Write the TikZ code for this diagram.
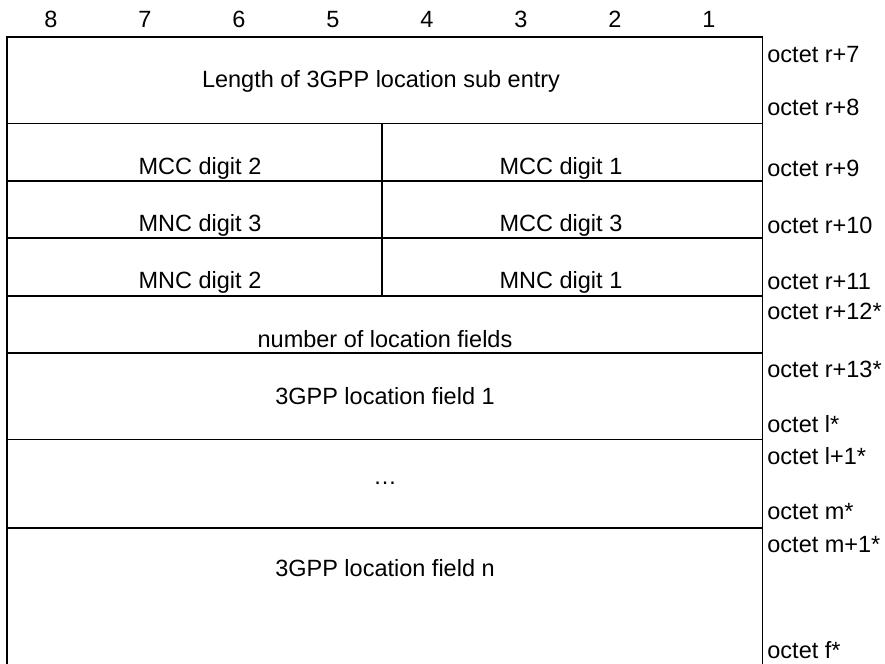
\documentclass[tikz,border=0pt]{standalone}
\usepackage{fontspec}
\setmainfont{Liberation Sans}
\usetikzlibrary{positioning}

\begin{document}
\begin{tikzpicture}[x=0.5pt, y=-0.5pt,
    frame/.style={line width=0.7pt},
    field/.style={font=\fontsize{11.75}{14}\selectfont, inner sep=0pt},
    octet/.style={field, anchor=west}]
                \useasboundingbox (0,0) rectangle (885,664);

                % Bit numbers
                \foreach \b in {1,...,8}
                    \node[field, anchor=base] (bit\b) at ({51+94*(8-\b)},27) {\b};

                % Frame and row lines
                \draw[frame] (7,664) -- (7,37) -- (762.5,37) -- (762.5,664);
                \foreach \y in {123.5,181,238,296,353,439.5,528}
                    \draw[frame] (7,\y) -- (762.5,\y);
                \draw[frame] (382,123.5) -- (382,296);

                % Fields
                \node[field] (length) at (381,81) {Length of 3GPP location sub entry};
                \node[field] (mcctwo) at (200,168) {MCC digit 2};
                \node[field] (mccone) at (561,168) {MCC digit 1};
                \node[field] (mncthree) at (200,225) {MNC digit 3};
                \node[field] (mccthree) at (561,225) {MCC digit 3};
                \node[field] (mnctwo) at (200,282) {MNC digit 2};
                \node[field] (mncone) at (561,282) {MNC digit 1};
                \node[field] (numloc) at (385,339) {number of location fields};
                \node[field] (locone) at (385,396) {3GPP location field 1};
                \node[field] (dots) at (385,483) {…};
                \node[field] (locn) at (385,568) {3GPP location field n};

                % Octet labels
                \node[octet] (oct7) at (767,55) {octet r+7};
                \node[octet] (oct8) at (767,107) {octet r+8};
                \node[octet] (oct9) at (767,168) {octet r+9};
                \node[octet] (oct10) at (767,225) {octet r+10};
                \node[octet] (oct11) at (767,282) {octet r+11};
                \node[octet] (oct12) at (767,311) {octet r+12*};
                \node[octet] (oct13) at (767,369) {octet r+13*};
                \node[octet] (octl) at (767,424) {octet l*};
                \node[octet] (octlone) at (767,456) {octet l+1*};
                \node[octet] (octm) at (767,512) {octet m*};
                \node[octet] (octmone) at (767,545) {octet m+1*};
                \node[octet] (octf) at (767,650) {octet f*};

            \end{tikzpicture}
\end{document}
